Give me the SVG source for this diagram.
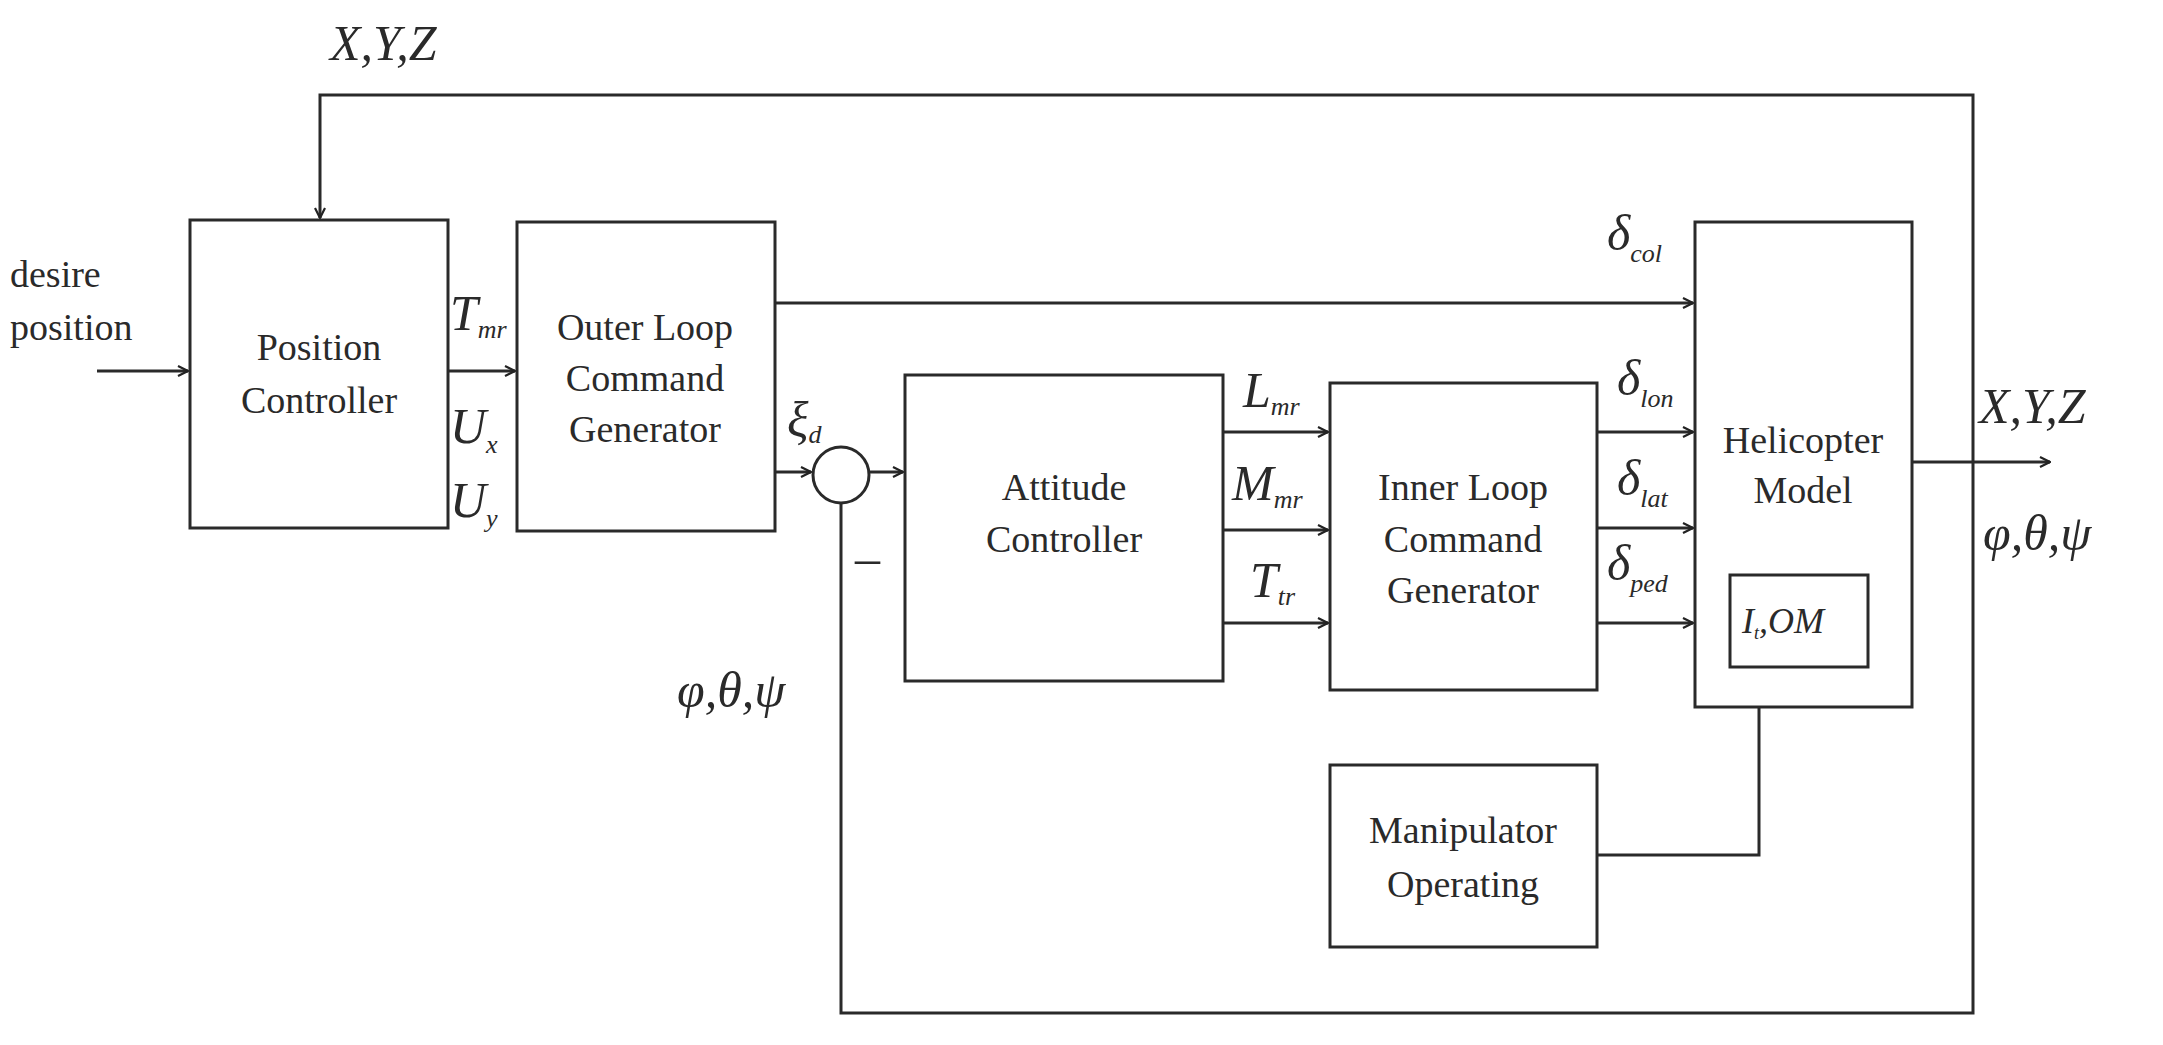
<svg xmlns="http://www.w3.org/2000/svg" width="2163" height="1045" viewBox="0 0 2163 1045">
<defs>
<marker id="ar" viewBox="0 0 12 12" refX="11" refY="6" markerWidth="12" markerHeight="12" markerUnits="userSpaceOnUse" orient="auto">
<path d="M1,1 L11,6 L1,11" fill="none" stroke="#222" stroke-width="2.2"/>
</marker>
<style>
.b{fill:#fff;stroke:#2a2a2a;stroke-width:3}
.l{fill:none;stroke:#2a2a2a;stroke-width:3}
.t{font-family:"Liberation Serif",serif;font-size:38px;fill:#2a2a2a;text-anchor:middle}
.m{font-family:"Liberation Serif",serif;font-style:italic;font-size:50px;fill:#2a2a2a}
.s{font-size:26px}
</style>
</defs>
<rect width="2163" height="1045" fill="#fff"/>
<g id="connectors">
<path class="l" d="M841,503 V1013 H1973 V95 H320 V218" marker-end="url(#ar)"/>
<path class="l" d="M97,371 H188" marker-end="url(#ar)"/>
<path class="l" d="M448,371 H515" marker-end="url(#ar)"/>
<path class="l" d="M775,303 H1693" marker-end="url(#ar)"/>
<path class="l" d="M775,472 H811" marker-end="url(#ar)"/>
<path class="l" d="M869,472 H903" marker-end="url(#ar)"/>
<path class="l" d="M1223,432 H1328" marker-end="url(#ar)"/>
<path class="l" d="M1223,530 H1328" marker-end="url(#ar)"/>
<path class="l" d="M1223,623 H1328" marker-end="url(#ar)"/>
<path class="l" d="M1597,432 H1693" marker-end="url(#ar)"/>
<path class="l" d="M1597,528 H1693" marker-end="url(#ar)"/>
<path class="l" d="M1597,623 H1693" marker-end="url(#ar)"/>
<path class="l" d="M1912,462 H2050" marker-end="url(#ar)"/>
<path class="l" d="M1597,855 H1759 V685 L1777,669"/>
<path class="l" d="M1830,575 L1865,543" marker-end="url(#ar)"/>
</g>
<g id="position-controller"><rect class="b" x="190" y="220" width="258" height="308"/><text class="t" x="319" y="360">Position</text><text class="t" x="319" y="413">Controller</text></g>
<g id="outer-loop"><rect class="b" x="517" y="222" width="258" height="309"/><text class="t" x="645" y="340">Outer Loop</text><text class="t" x="645" y="391">Command</text><text class="t" x="645" y="442">Generator</text></g>
<g id="sum"><circle class="b" cx="841" cy="475" r="28"/></g>
<g id="attitude-controller"><rect class="b" x="905" y="375" width="318" height="306"/><text class="t" x="1064" y="500">Attitude</text><text class="t" x="1064" y="552">Controller</text></g>
<g id="inner-loop"><rect class="b" x="1330" y="383" width="267" height="307"/><text class="t" x="1463" y="500">Inner Loop</text><text class="t" x="1463" y="552">Command</text><text class="t" x="1463" y="603">Generator</text></g>
<g id="helicopter-model"><rect class="b" x="1695" y="222" width="217" height="485"/><text class="t" x="1803" y="453">Helicopter</text><text class="t" x="1803" y="503">Model</text></g>
<g id="it-om"><rect class="b" x="1730" y="575" width="138" height="92"/><text class="m" x="1742" y="633" style="font-size:36px">I<tspan class="s" style="font-size:18px" dy="6">t</tspan><tspan dy="-6">,</tspan><tspan>OM</tspan></text></g>
<g id="manipulator"><rect class="b" x="1330" y="765" width="267" height="182"/><text class="t" x="1463" y="843">Manipulator</text><text class="t" x="1463" y="897">Operating</text></g>
<g id="labels">
<text class="t" x="10" y="287" style="text-anchor:start">desire</text>
<text class="t" x="10" y="340" style="text-anchor:start">position</text>
<text class="m" x="330" y="60">X,Y,Z</text>
<text class="m" x="450" y="330">T<tspan class="s" dy="8">mr</tspan></text>
<text class="m" x="450" y="443">U<tspan class="s" dy="10">x</tspan></text>
<text class="m" x="450" y="517">U<tspan class="s" dy="10">y</tspan></text>
<text class="m" x="787" y="437">ξ<tspan class="s" dy="6">d</tspan></text>
<text class="m" x="855" y="575" style="font-style:normal">–</text>
<text class="m" x="677" y="707">φ,θ,ψ</text>
<text class="m" x="1243" y="407">L<tspan class="s" dy="8">mr</tspan></text>
<text class="m" x="1232" y="500">M<tspan class="s" dy="8">mr</tspan></text>
<text class="m" x="1250" y="597">T<tspan class="s" dy="8">tr</tspan></text>
<text class="m" x="1607" y="250">δ<tspan class="s" dy="12">col</tspan></text>
<text class="m" x="1617" y="395">δ<tspan class="s" dy="12">lon</tspan></text>
<text class="m" x="1617" y="495">δ<tspan class="s" dy="12">lat</tspan></text>
<text class="m" x="1607" y="580">δ<tspan class="s" dy="12">ped</tspan></text>
<text class="m" x="1979" y="423">X,Y,Z</text>
<text class="m" x="1983" y="550">φ,θ,ψ</text>
</g>
</svg>
